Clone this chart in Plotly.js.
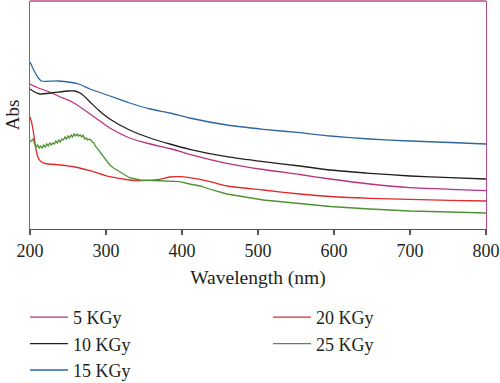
<!DOCTYPE html>
<html>
<head>
<meta charset="utf-8">
<script src="https://cdn.plot.ly/plotly-3.0.1.min.js"></script>
<style>html,body{margin:0;padding:0;background:#fff;}#chart{width:500px;height:383px;}</style>
</head>
<body>
<div id="chart"></div>
<script>
// Wavelength (nm) and absorbance (arbitrary units)
var wl5 = [200, 211, 226, 237, 253, 264, 279, 290, 305, 331, 358, 384, 410, 459, 507, 555, 595, 647, 700, 753, 800];
var abs5 = [1.45, 1.41, 1.37, 1.33, 1.28, 1.23, 1.15, 1.09, 1.01, 0.91, 0.85, 0.805, 0.747, 0.657, 0.595, 0.545, 0.50, 0.45, 0.413, 0.397, 0.383];

var wl10 = [200, 206, 213, 228, 250, 259, 268, 279, 290, 305, 331, 358, 384, 410, 459, 507, 555, 595, 647, 700, 753, 800];
var abs10 = [1.40, 1.37, 1.35, 1.36, 1.38, 1.38, 1.35, 1.27, 1.19, 1.10, 0.99, 0.91, 0.85, 0.797, 0.723, 0.673, 0.63, 0.59, 0.557, 0.53, 0.513, 0.50];

var wl15 = [200, 203, 207, 211, 215, 237, 264, 279, 305, 331, 358, 384, 410, 459, 507, 555, 595, 647, 700, 753, 800];
var abs15 = [1.67, 1.62, 1.56, 1.51, 1.48, 1.48, 1.45, 1.40, 1.33, 1.26, 1.20, 1.16, 1.11, 1.04, 0.997, 0.963, 0.93, 0.90, 0.88, 0.865, 0.85];

var wl20 = [200, 202, 204, 206, 208, 211, 215, 220, 240, 259, 279, 305, 331, 345, 371, 384, 397, 410, 437, 459, 507, 555, 595, 647, 700, 753, 800];
var abs20 = [1.12, 1.07, 0.99, 0.89, 0.79, 0.71, 0.67, 0.655, 0.64, 0.62, 0.583, 0.523, 0.49, 0.483, 0.497, 0.52, 0.523, 0.513, 0.473, 0.43, 0.39, 0.35, 0.325, 0.307, 0.297, 0.287, 0.28];

var wl25 = [200, 202, 204, 206, 208, 210, 212, 214, 216, 218, 220, 222, 224, 226, 228, 230, 232, 234, 236, 238, 240, 242, 244, 246, 248, 250, 252, 254, 256, 258, 260, 262, 264, 266, 268, 270, 272, 274, 276, 278, 280, 282, 284, 286, 288, 290, 292, 294, 296, 298, 300, 305, 310, 318, 331, 345, 371, 397, 410, 424, 440, 459, 507, 555, 595, 647, 700, 753, 800];
var abs25 = [0.87, 0.89, 0.90, 0.85, 0.82, 0.84, 0.81, 0.83, 0.81, 0.84, 0.82, 0.85, 0.83, 0.86, 0.84, 0.86, 0.85, 0.88, 0.86, 0.89, 0.87, 0.90, 0.89, 0.92, 0.90, 0.93, 0.91, 0.94, 0.92, 0.95, 0.93, 0.95, 0.93, 0.94, 0.92, 0.94, 0.90, 0.91, 0.89, 0.90, 0.89, 0.87, 0.86, 0.83, 0.81, 0.79, 0.77, 0.74, 0.72, 0.70, 0.685, 0.64, 0.61, 0.573, 0.513, 0.49, 0.48, 0.473, 0.45, 0.43, 0.39, 0.35, 0.29, 0.257, 0.225, 0.20, 0.18, 0.17, 0.16];

var seriesNames = ['5 KGy', '10 KGy', '15 KGy', '20 KGy', '25 KGy'];
var xTicks = [200, 300, 400, 500, 600, 700, 800];

var font = 'Liberation Serif, Times New Roman, serif';
var txt = '#231f20';
var frame = '#b8488a';

function tr(x, y, name, color, shape, legend) {
  return {x: x, y: y, name: name, type: 'scatter', mode: 'lines',
    line: {color: color, width: 1.3, shape: shape, smoothing: 0.6}, legend: legend};
}

var data = [
  tr(wl5, abs5, seriesNames[0], '#b8337f', 'spline', 'legend'),
  tr(wl10, abs10, seriesNames[1], '#231f20', 'spline', 'legend'),
  tr(wl15, abs15, seriesNames[2], '#2f66a0', 'spline', 'legend'),
  tr(wl20, abs20, seriesNames[3], '#e02a2e', 'spline', 'legend2'),
  tr(wl25, abs25, seriesNames[4], '#4e9233', 'linear', 'legend2')
];

var legendCommon = {
  orientation: 'v', xanchor: 'left', yanchor: 'top', itemwidth: 38,
  font: {family: font, size: 18, color: txt},
  bgcolor: 'rgba(0,0,0,0)', borderwidth: 0, traceorder: 'normal'
};

var layout = {
  width: 500, height: 383,
  margin: {l: 30, r: 14, t: 1, b: 154, autoexpand: false},
  paper_bgcolor: '#fff', plot_bgcolor: '#fff',
  showlegend: true,
  legend: Object.assign({x: -0.011, y: -0.307}, legendCommon),
  legend2: Object.assign({x: 0.522, y: -0.307}, legendCommon),
  xaxis: {
    range: [200, 800], tickvals: xTicks, ticktext: xTicks.map(String),
    showgrid: false, zeroline: false,
    showline: true, linecolor: '#555', linewidth: 1.2,
    ticks: 'outside', ticklen: 5, tickcolor: '#555', tickwidth: 1.2,
    tickfont: {family: font, size: 18, color: txt},
    title: {text: 'Wavelength (nm)', font: {family: font, size: 19.5, color: txt}, standoff: 10}
  },
  yaxis: {
    range: [0, 2.28], showticklabels: false, ticks: '',
    showgrid: false, zeroline: false,
    showline: true, mirror: true, linecolor: frame, linewidth: 1.3,
    title: {text: 'Abs', font: {family: font, size: 19, color: txt}, standoff: 4}
  },
  shapes: [{type: 'line', xref: 'paper', yref: 'paper', x0: 0, x1: 1, y0: 1, y1: 1,
    line: {color: frame, width: 1.5}}]
};

Plotly.newPlot('chart', data, layout, {displayModeBar: false, staticPlot: true});
</script>
</body>
</html>
